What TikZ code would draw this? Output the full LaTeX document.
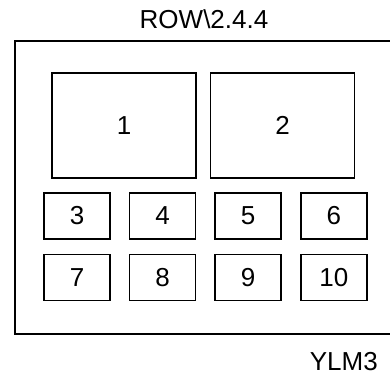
\documentclass[tikz,border=0pt]{standalone}
\usepackage{fontspec}
\setmainfont{Liberation Sans}
\usetikzlibrary{positioning}

\begin{document}
\begin{tikzpicture}[x=1pt,y=-1pt,node distance=14pt and 18pt,
 lbl/.style={inner sep=0pt,font=\fontsize{26}{31}\selectfont},
 box/.style={draw,line width=1.6pt,lbl},
 bigbox/.style={box,minimum width=144pt,minimum height=105pt},
 smallbox/.style={box,minimum width=66pt,minimum height=46pt}]
\useasboundingbox (0,0) rectangle (390,376);
\clip (0,0) rectangle (390,376);
\node[lbl,anchor=base] (title) at (204,28) {ROW\textbackslash2.4.4};
\node[draw,line width=2.2pt,minimum width=400pt,minimum height=293pt,inner sep=0pt,anchor=north west] (frame) at (14,40) {};
\node[bigbox] (b1) at (124,125.5) {1};
\node[bigbox,right=13pt of b1] (b2) {2};
\node[smallbox] (n3) at (77,216) {3};
\node[smallbox,right=of n3] (n4) {4};
\node[smallbox,right=of n4] (n5) {5};
\node[smallbox,right=of n5] (n6) {6};
\node[smallbox,below=of n3] (n7) {7};
\node[smallbox,below=of n4] (n8) {8};
\node[smallbox,below=of n5] (n9) {9};
\node[smallbox,below=of n6] (n10) {10};
\node[lbl,anchor=base east] (tag) at (378,370) {YLM3};
\end{tikzpicture}
\end{document}
